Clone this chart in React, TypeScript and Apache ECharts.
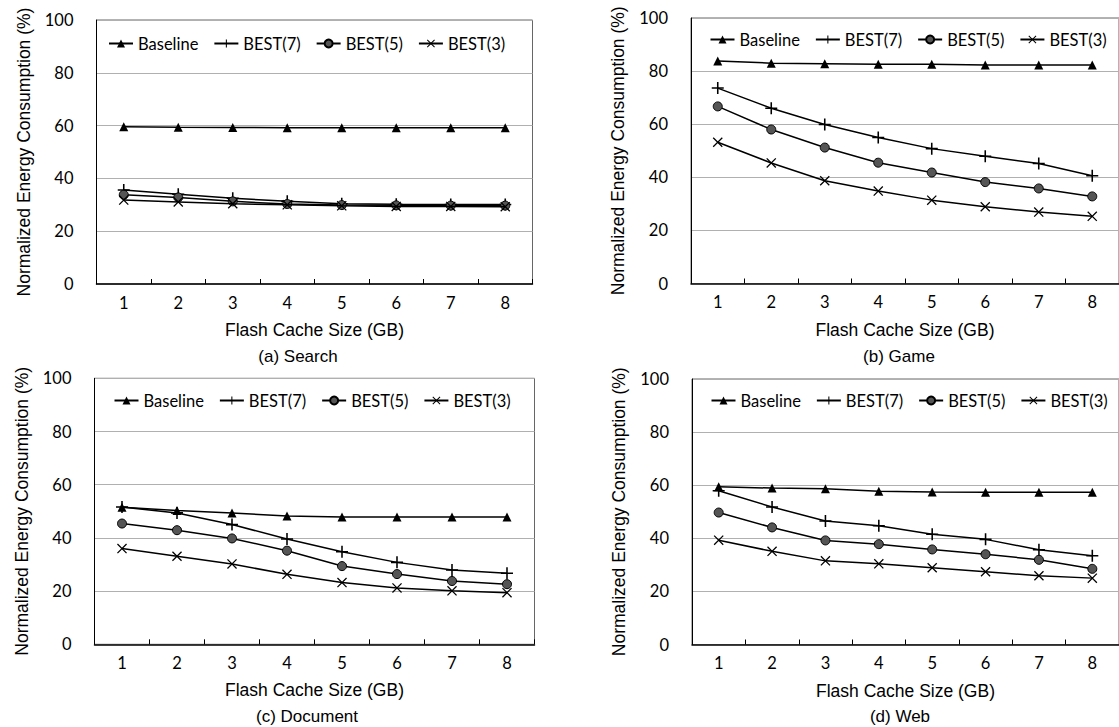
import React, { useEffect, useRef } from "react";
import * as echarts from "echarts";

const categories = ["1", "2", "3", "4", "5", "6", "7", "8"];
const seriesNames = ["Baseline", "BEST(7)", "BEST(5)", "BEST(3)"];
const panelTitles = ["(a) Search", "(b) Game", "(c) Document", "(d) Web"];

const searchBaseline = [59.6, 59.4, 59.3, 59.2, 59.2, 59.2, 59.2, 59.2];
const searchBest7 = [35.6, 34.0, 32.5, 31.3, 30.4, 30.2, 30.1, 30.1];
const searchBest5 = [33.8, 32.8, 31.3, 30.3, 29.9, 29.8, 29.7, 29.7];
const searchBest3 = [31.8, 31.1, 30.4, 30.0, 29.6, 29.4, 29.4, 29.3];

const gameBaseline = [83.8, 83.0, 82.8, 82.6, 82.6, 82.3, 82.3, 82.3];
const gameBest7 = [73.6, 66.0, 59.9, 55.0, 50.8, 47.9, 45.2, 40.6];
const gameBest5 = [66.7, 58.0, 51.2, 45.5, 41.8, 38.2, 35.8, 32.8];
const gameBest3 = [53.2, 45.4, 38.7, 34.8, 31.4, 28.9, 26.9, 25.3];

const docBaseline = [51.5, 50.3, 49.4, 48.2, 47.9, 47.9, 47.9, 47.9];
const docBest7 = [51.6, 49.4, 45.0, 39.6, 34.8, 30.8, 27.9, 26.7];
const docBest5 = [45.4, 42.9, 39.8, 35.2, 29.4, 26.4, 23.8, 22.6];
const docBest3 = [36.0, 33.1, 30.2, 26.3, 23.2, 21.2, 20.1, 19.4];

const webBaseline = [59.4, 58.9, 58.7, 57.7, 57.4, 57.3, 57.3, 57.3];
const webBest7 = [57.9, 51.8, 46.5, 44.7, 41.5, 39.6, 35.7, 33.4];
const webBest5 = [49.7, 44.1, 39.2, 37.8, 35.8, 34.0, 31.9, 28.5];
const webBest3 = [39.3, 35.1, 31.5, 30.4, 28.9, 27.4, 25.9, 25.0];

const yTicks = { min: 0, max: 100, interval: 20 };
const xAxisName = "Flash Cache Size (GB)";
const yAxisName = "Normalized Energy Consumption (%)";

const panelData = [
  [searchBaseline, searchBest7, searchBest5, searchBest3],
  [gameBaseline, gameBest7, gameBest5, gameBest3],
  [docBaseline, docBest7, docBest5, docBest3],
  [webBaseline, webBest7, webBest5, webBest3],
];

// layout (pixels)
const grids = [
  { left: 96.5, top: 20, width: 436, height: 264 },
  { left: 691, top: 18, width: 438.4, height: 265.5 },
  { left: 94.5, top: 378.3, width: 440, height: 266 },
  { left: 692, top: 379, width: 438, height: 265.5 },
];
const legendPos = [
  { left: 108, top: 45 },
  { left: 709.5, top: 41 },
  { left: 113.5, top: 402 },
  { left: 710.5, top: 402 },
];
const titlePos = [
  { x: 298, y: 356 },
  { x: 899, y: 356 },
  { x: 307, y: 716 },
  { x: 900, y: 716 },
];

const PLUS = "path://M4.35,0H5.65V10H4.35Z M0,4.35H10V5.65H0Z";
const CROSS = "path://M0.9,0L10,9.1L9.1,10L0,0.9Z M9.1,0L10,0.9L0.9,10L0,9.1Z";

const symbolStyles = [
  { symbol: "triangle", symbolSize: 9, color: "#000", border: "#000" },
  { symbol: PLUS, symbolSize: 12, color: "#000", border: "#000" },
  { symbol: "circle", symbolSize: 9, color: "#555", border: "#000" },
  { symbol: CROSS, symbolSize: 10, color: "#000", border: "#000" },
];

export default function App() {
  const ref = useRef<HTMLDivElement>(null);
  useEffect(() => {
    if (!ref.current) return;
    const chart = echarts.init(ref.current, undefined, { renderer: "svg" });

    const xAxes: any[] = [];
    const yAxes: any[] = [];
    const series: any[] = [];
    const legends: any[] = [];
    const graphics: any[] = [];

    grids.forEach((g, i) => {
      xAxes.push({
        type: "category",
        gridIndex: i,
        data: categories,
        boundaryGap: true,
        name: xAxisName,
        nameLocation: "middle",
        nameGap: 37,
        nameTextStyle: { fontFamily: "Liberation Sans", fontSize: 17.5, color: "#000" },
        axisLine: { show: true, lineStyle: { color: "#000", width: 1.5 } },
        axisTick: { show: true, inside: true, length: 5, lineStyle: { color: "#000", width: 1 } },
        axisLabel: { fontFamily: "Lato", fontSize: 16.5, color: "#000", margin: 10 },
        splitLine: { show: false },
      });
      yAxes.push({
        type: "value",
        gridIndex: i,
        min: yTicks.min,
        max: yTicks.max,
        interval: yTicks.interval,
        name: yAxisName,
        nameLocation: "middle",
        nameRotate: 90,
        nameGap: 64,
        nameTextStyle: { fontFamily: "Liberation Sans", fontSize: 17.5, color: "#000" },
        axisLine: { show: true, lineStyle: { color: "#000", width: 1 } },
        axisTick: { show: false },
        axisLabel: { fontFamily: "Lato", fontSize: 16.5, color: "#000", margin: 23 },
        splitLine: { show: true, lineStyle: { color: "#b0b0b0", width: 1 } },
      });
      panelData[i].forEach((vals, s) => {
        const st = symbolStyles[s];
        series.push({
          type: "line",
          name: seriesNames[s],
          xAxisIndex: i,
          yAxisIndex: i,
          data: vals,
          symbol: st.symbol,
          symbolSize: st.symbolSize,
          showSymbol: true,
          lineStyle: { color: "#000", width: 1.5 },
          itemStyle: { color: st.color, borderColor: st.border, borderWidth: s === 2 ? 1 : 0 },
          z: 2 + s,
        });
      });
      legends.push({
        left: legendPos[i].left,
        top: legendPos[i].top - 10,
        width: 460,
        orient: "horizontal",
        itemWidth: 24,
        itemHeight: 10,
        itemGap: 15,
        padding: 0,
        data: seriesNames,
        textStyle: { fontFamily: "Lato", fontSize: 16.5, color: "#000" },
        selectedMode: false,
      });
      graphics.push({
        type: "text",
        x: titlePos[i].x,
        y: titlePos[i].y,
        style: {
          text: panelTitles[i],
          align: "center",
          verticalAlign: "middle",
          font: "17px 'Liberation Sans'",
          fill: "#000",
        },
      });
    });

    chart.setOption({
      animation: false,
      backgroundColor: "#fff",
      grid: grids.map((g) => ({
        left: g.left,
        top: g.top,
        width: g.width,
        height: g.height,
        show: true,
        borderColor: "#666",
        borderWidth: 1,
        backgroundColor: "transparent",
      })),
      xAxis: xAxes,
      yAxis: yAxes,
      legend: legends,
      series,
      graphic: graphics,
    });

    return () => chart.dispose();
  }, []);

  return (
    <div
      ref={ref}
      style={{ position: "absolute", left: 0, top: 0, width: 1119, height: 727 }}
    />
  );
}
